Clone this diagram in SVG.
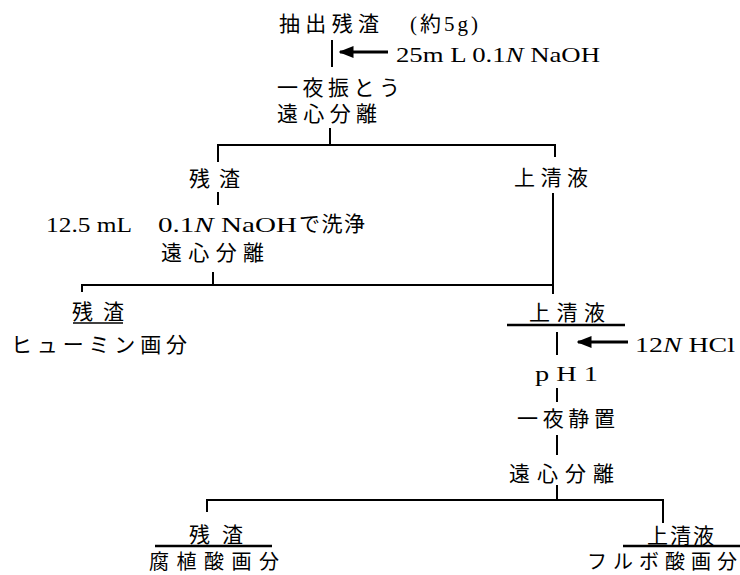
<svg xmlns="http://www.w3.org/2000/svg" width="740" height="575" viewBox="0 0 740 575">
<defs>
<style>
.j{font-family:"Noto Sans CJK JP","Noto Sans",sans-serif;font-size:21px;fill:#000}
.s{font-family:"Liberation Serif",serif;font-size:21px;fill:#000}
.i{font-style:italic}
.c{stroke:#000;stroke-width:2;fill:none}
.u{stroke:#000;stroke-width:2.5;fill:none}
.a{stroke:#000;stroke-width:3;fill:none}
</style>
<marker id="ah" markerWidth="5" markerHeight="4" refX="4.5" refY="2" orient="auto" markerUnits="strokeWidth">
<path d="M0,0 L5,2 L0,4 Z" fill="#000"/>
</marker>
</defs>
<rect width="740" height="575" fill="#fff"/>

<g id="connectors">
<line class="c" x1="332" y1="40" x2="332" y2="67"/>
<line class="a" x1="388" y1="52" x2="340" y2="52" marker-end="url(#ah)"/>
<line class="c" x1="330" y1="128" x2="330" y2="145"/>
<polyline class="c" points="218,162 218,145 555,145 555,157"/>
<line class="c" x1="218" y1="192" x2="218" y2="205"/>
<line class="c" x1="213" y1="272" x2="213" y2="285"/>
<polyline class="c" points="82,292 82,285 553,285"/>
<line class="c" x1="553" y1="193" x2="553" y2="294"/>
<line class="c" x1="557" y1="332" x2="557" y2="355"/>
<line class="a" x1="628" y1="342" x2="578" y2="342" marker-end="url(#ah)"/>
<line class="c" x1="557" y1="388" x2="557" y2="402"/>
<line class="c" x1="557" y1="435" x2="557" y2="455"/>
<line class="c" x1="557" y1="485" x2="557" y2="500"/>
<polyline class="c" points="207,512 207,500 663,500 663,523"/>
</g>

<g id="n-start">
<text class="j" x="279" y="31" textLength="100" lengthAdjust="spacing">抽出残渣</text>
<text class="s" x="410" y="31" textLength="68" lengthAdjust="spacing">(<tspan class="j">約</tspan>5g)</text>
</g>
<g id="n-naoh">
<text class="s" x="396" y="62" textLength="204" lengthAdjust="spacingAndGlyphs">25m L 0.1<tspan class="i">N</tspan> NaOH</text>
</g>
<g id="n-shake">
<text class="j" x="277" y="95" textLength="123" lengthAdjust="spacing">一夜振とう</text>
<text class="j" x="277" y="121" textLength="100" lengthAdjust="spacing">遠心分離</text>
</g>
<g id="n-residue1">
<text class="j" x="189" y="186" textLength="51" lengthAdjust="spacing">残渣</text>
</g>
<g id="n-super1">
<text class="j" x="514" y="185" textLength="74" lengthAdjust="spacing">上清液</text>
</g>
<g id="n-wash">
<text class="s" x="46" y="232" textLength="86" lengthAdjust="spacingAndGlyphs">12.5 mL</text>
<text class="s" x="158" y="232" textLength="139" lengthAdjust="spacingAndGlyphs">0.1<tspan class="i">N</tspan> NaOH</text>
<text class="j" x="299" y="231" textLength="66" lengthAdjust="spacing">で洗浄</text>
<text class="j" x="161" y="260" textLength="103" lengthAdjust="spacing">遠心分離</text>
</g>
<g id="n-humin">
<text class="j" x="72" y="319" textLength="52" lengthAdjust="spacing">残渣</text>
<line class="c" x1="73" y1="323" x2="123" y2="323" style="stroke-width:1.5"/>
<text class="j" x="11" y="352" textLength="176" lengthAdjust="spacing">ヒューミン画分</text>
</g>
<g id="n-super2">
<text class="j" x="529" y="320" textLength="76" lengthAdjust="spacing">上清液</text>
<line class="u" x1="507" y1="325" x2="625" y2="325"/>
</g>
<g id="n-hcl">
<text class="s" x="635" y="352" textLength="100" lengthAdjust="spacingAndGlyphs">12<tspan class="i">N</tspan> HCl</text>
</g>
<g id="n-ph">
<text class="s" x="535" y="381" textLength="63" lengthAdjust="spacingAndGlyphs">p H 1</text>
</g>
<g id="n-stand">
<text class="j" x="517" y="426" textLength="98" lengthAdjust="spacing">一夜静置</text>
</g>
<g id="n-centrifuge3">
<text class="j" x="509" y="481" textLength="105" lengthAdjust="spacing">遠心分離</text>
</g>
<g id="n-humic">
<text class="j" x="189" y="542" textLength="54" lengthAdjust="spacing">残渣</text>
<line class="u" x1="155" y1="546" x2="272" y2="546"/>
<text class="j" x="149" y="569" style="font-size:20px" textLength="130" lengthAdjust="spacing">腐植酸画分</text>
</g>
<g id="n-fulvic">
<text class="j" x="647" y="543" textLength="67" lengthAdjust="spacing">上清液</text>
<line class="u" x1="623" y1="546" x2="740" y2="546"/>
<text class="j" x="587" y="569" style="font-size:20px" textLength="150" lengthAdjust="spacing">フルボ酸画分</text>
</g>
</svg>
